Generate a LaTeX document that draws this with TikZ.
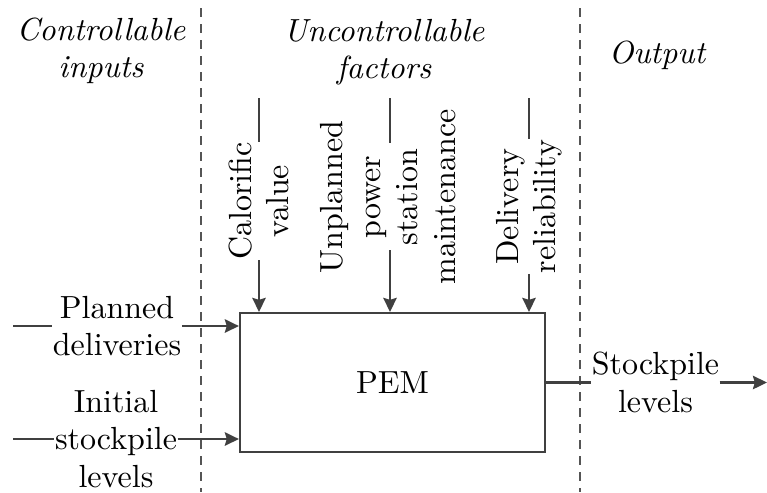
\documentclass[tikz,border=0pt]{standalone}
\usetikzlibrary{arrows.meta}
\definecolor{linegray}{RGB}{64,64,64}
\definecolor{dashgray}{RGB}{85,85,85}
\begin{document}
\begin{tikzpicture}[x=0.3125pt,y=-0.3125pt,
  txt/.style={font=\fontsize{10}{11.7}\selectfont, align=center, inner sep=0pt},
  head/.style={txt, font=\fontsize{10}{11.7}\selectfont\itshape},
  flow/.style={line width=0.7pt, draw=linegray},
  arr/.style={flow, -{Stealth[length=4.4pt,width=4.2pt,inset=0.6pt]}},
  divider/.style={draw=dashgray, line width=0.4pt, dash pattern=on 2.8pt off 2.2pt},
  model/.style={draw=linegray, line width=0.7pt, minimum width=95.3pt,
    minimum height=43.4pt, inner sep=0pt, font=\fontsize{10}{11.7}\selectfont}]

\useasboundingbox (0,0) rectangle (767,492);

% column dividers
\coordinate (d1t) at (201,8);  \coordinate (d1b) at (201,492);
\coordinate (d2t) at (580,8);  \coordinate (d2b) at (580,492);
\draw[divider] (d1t) -- (d1b);
\draw[divider] (d2t) -- (d2b);

% column headings
\node[head] (hc) at (101,51) {Controllable\\inputs};
\node[head] (hu) at (384,52) {Uncontrollable\\factors};
\node[head] (ho) at (657,55) {Output};

% the model
\node[model] (pem) at (392.5,382.5) {PEM};

% controllable inputs
\node[txt] (pd) at (117,326) {Planned\\deliveries};
\coordinate (pd-in) at (13,326);
\draw[flow] (pd-in) -- (pd.west);
\draw[arr] (pd.east) -- (pd.east -| pem.west);

\node[txt] (is) at (116,439) {Initial\\stockpile\\levels};
\coordinate (is-in) at (13,439);
\draw[flow] (is-in) -- (is.west);
\draw[arr] (is.east) -- (is.east -| pem.west);

% uncontrollable factors
\node[txt, rotate=90] (cv) at (259,201) {Calorific\\value};
\coordinate (cv-in) at (259,98);
\draw[flow] (cv-in) -- (cv.east);
\draw[arr] (cv.west) -- (cv.west |- pem.north);

\node[txt, rotate=90] (um) at (388,197) {Unplanned\\power\\station\\maintenance};
\coordinate (um-in) at (390,98);
\coordinate (um-gt) at (390,143);
\coordinate (um-gb) at (390,250);
\draw[flow] (um-in) -- (um-gt);
\draw[arr] (um-gb) -- (um-gb |- pem.north);

\node[txt, rotate=90] (dr) at (529,206.5) {Delivery\\reliability};
\coordinate (dr-in) at (529,98);
\draw[flow] (dr-in) -- (dr.east);
\draw[arr] (dr.west) -- (dr.west |- pem.north);

% output
\node[txt] (sl) at (655.5,382.5) {Stockpile\\levels};
\coordinate (sl-out) at (767,382.5);
\draw[flow] (pem.east) -- (sl.west);
\draw[arr] (sl.east) -- (sl-out);

\end{tikzpicture}
\end{document}
